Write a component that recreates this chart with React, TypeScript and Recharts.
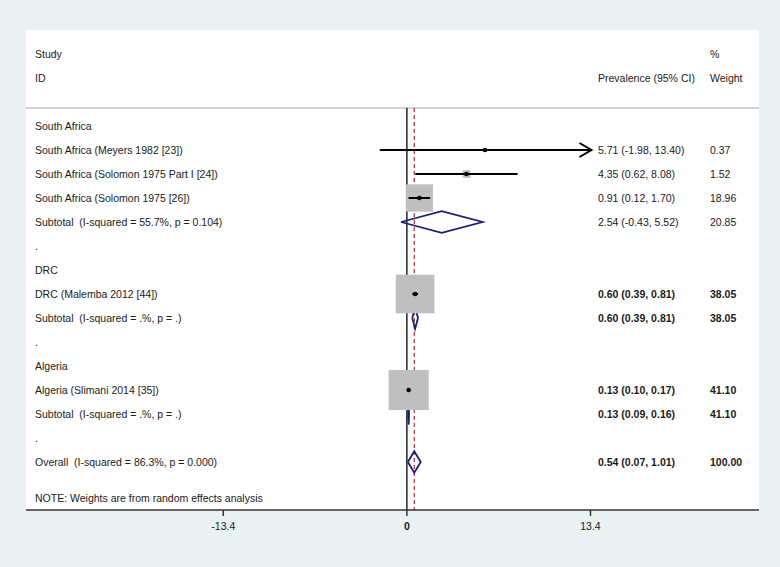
import React from 'react';
import {
  ComposedChart,
  Scatter,
  Line,
  XAxis,
  YAxis,
  ZAxis,
  ErrorBar,
  ReferenceLine,
  CartesianGrid,
} from 'recharts';

// row labels, top to bottom (row index = position in this list)
const rowLabels = [
  'South Africa',
  'South Africa (Meyers 1982 [23])',
  'South Africa (Solomon 1975 Part I [24])',
  'South Africa (Solomon 1975 [26])',
  'Subtotal  (I-squared = 55.7%, p = 0.104)',
  '.',
  'DRC',
  'DRC (Malemba 2012 [44])',
  'Subtotal  (I-squared = .%, p = .)',
  '.',
  'Algeria',
  'Algeria (Slimani 2014 [35])',
  'Subtotal  (I-squared = .%, p = .)',
  '.',
  'Overall  (I-squared = 86.3%, p = 0.000)',
];

// individual studies
const studyRows = [1, 2, 3, 7, 11];
const studyEst = [5.71, 4.35, 0.91, 0.6, 0.13];
const studyLo = [-1.98, 0.62, 0.12, 0.39, 0.1];
const studyHi = [13.4, 8.08, 1.7, 0.81, 0.17];
const studyWeight = [0.37, 1.52, 18.96, 38.05, 41.1];

// pooled estimates (subtotals + overall)
const pooledRows = [4, 8, 12, 14];
const pooledEst = [2.54, 0.6, 0.13, 0.54];
const pooledLo = [-0.43, 0.39, 0.09, 0.07];
const pooledHi = [5.52, 0.81, 0.16, 1.01];
const pooledWeight = [20.85, 38.05, 41.1, 100.0];

const boldRows = [7, 8, 11, 12, 14];
const xTicks = [-13.4, 0, 13.4];
const overallEst = 0.54;
const noteText = 'NOTE: Weights are from random effects analysis';

const X_DOMAIN: [number, number] = [-27.8, 25.7];
const Y_DOMAIN: [number, number] = [-4, 16];
const SEP_ROW = -0.75;
const NOTE_ROW = 15.5;
const DIAMOND_H = 0.45;
const ARROW_AT = 13.4;

const FONT = '"Liberation Sans", Arial, sans-serif';
const FS = 10.5;
const TXT = '#1a1a1a';
const NAVY = '#1c2070';

const studyData = studyRows.map((r, i) => ({
  x: studyEst[i],
  y: r,
  w: studyWeight[i],
  err: [studyEst[i] - studyLo[i], Math.min(studyHi[i], ARROW_AT) - studyEst[i]],
}));

const arrowData = studyRows
  .map((r, i) => ({ x: ARROW_AT, y: r, hi: studyHi[i] }))
  .filter((d) => d.hi >= ARROW_AT);

const diamonds = pooledRows.map((r, i) => [
  { x: pooledLo[i], y: r },
  { x: pooledEst[i], y: r - DIAMOND_H },
  { x: pooledHi[i], y: r },
  { x: pooledEst[i], y: r + DIAMOND_H },
  { x: pooledLo[i], y: r },
]);

const fmt = (e: number, l: number, h: number) =>
  `${e.toFixed(2)} (${l.toFixed(2)}, ${h.toFixed(2)})`;

const rightCols: Record<string, [string, string]> = {
  '-3': ['', '%'],
  '-2': ['Prevalence (95% CI)', 'Weight'],
};
studyRows.forEach((r, i) => {
  rightCols[String(r)] = [fmt(studyEst[i], studyLo[i], studyHi[i]), studyWeight[i].toFixed(2)];
});
pooledRows.forEach((r, i) => {
  rightCols[String(r)] = [fmt(pooledEst[i], pooledLo[i], pooledHi[i]), pooledWeight[i].toFixed(2)];
});

const leftLabel = (v: number) => {
  if (v === -3) return 'Study';
  if (v === -2) return 'ID';
  if (v === NOTE_ROW) return noteText;
  return rowLabels[v] ?? '';
};

const yTicks = [-3, -2, ...rowLabels.map((_, i) => i), NOTE_ROW];

const textStyle: React.CSSProperties = { whiteSpace: 'pre' };

const LeftTick = (props: any) => {
  const { y, payload } = props;
  return (
    <text x={35} y={y} dy="0.35em" fontSize={FS} fontFamily={FONT} fill={TXT} style={textStyle}>
      {leftLabel(payload.value)}
    </text>
  );
};

const RightTick = (props: any) => {
  const { y, payload } = props;
  const cols = rightCols[String(payload.value)];
  if (!cols) return <g />;
  const bold = boldRows.includes(payload.value);
  return (
    <g fontSize={FS} fontFamily={FONT} fill={TXT} fontWeight={bold ? 'bold' : 'normal'}>
      <text x={598} y={y} dy="0.35em">{cols[0]}</text>
      <text x={710} y={y} dy="0.35em">{cols[1]}</text>
    </g>
  );
};

const XTick = (props: any) => {
  const { x, y, payload } = props;
  return (
    <text
      x={x}
      y={y}
      dy="0.71em"
      textAnchor="middle"
      fontSize={FS}
      fontFamily={FONT}
      fill={TXT}
      fontWeight={payload.value === 0 ? 'bold' : 'normal'}
    >
      {String(payload.value)}
    </text>
  );
};

const Dot = (p: any) => <circle cx={p.cx} cy={p.cy} r={2.3} fill="#000" />;

const Arrow = (p: any) => (
  <path
    d={`M${p.cx - 11},${p.cy - 7} L${p.cx + 1},${p.cy} L${p.cx - 11},${p.cy + 7}`}
    stroke="#000"
    strokeWidth={2}
    fill="none"
  />
);

const Box = (p: any) => {
  const s = Math.sqrt(Math.max(p.size || 0, 0));
  return <rect x={p.cx - s / 2} y={p.cy - s / 2} width={s} height={s} fill="#bfbfbf" />;
};

export default function App() {
  return (
    <div style={{ position: 'absolute', left: 0, top: 0, width: 780, height: 567, background: '#eaf1f3' }}>
      <ComposedChart width={780} height={567} margin={{ top: 30, right: 20, bottom: 17, left: 25 }}>
        <CartesianGrid horizontal={false} vertical={false} fill="#ffffff" fillOpacity={1} yAxisId="left" />
        <XAxis
          type="number"
          dataKey="x"
          domain={X_DOMAIN}
          allowDataOverflow
          ticks={xTicks}
          interval={0}
          height={40}
          tickSize={6}
          tickMargin={7}
          tick={<XTick />}
          axisLine={{ stroke: '#333', strokeWidth: 1.5 }}
          tickLine={{ stroke: '#333', strokeWidth: 1.5 }}
        />
        <YAxis
          yAxisId="left"
          type="number"
          dataKey="y"
          domain={Y_DOMAIN}
          allowDataOverflow
          reversed
          width={1}
          ticks={yTicks}
          interval={0}
          axisLine={false}
          tickLine={false}
          tick={<LeftTick />}
        />
        <YAxis
          yAxisId="right"
          orientation="right"
          type="number"
          dataKey="y"
          domain={Y_DOMAIN}
          allowDataOverflow
          reversed
          width={1}
          ticks={yTicks}
          interval={0}
          axisLine={false}
          tickLine={false}
          tick={<RightTick />}
        />
        <ZAxis type="number" dataKey="w" domain={[0, 41.1]} range={[0, 1608]} />

        <ReferenceLine yAxisId="left" y={SEP_ROW} stroke="#d2d2d2" strokeWidth={2} />
        <ReferenceLine
          yAxisId="left"
          segment={[{ x: 0, y: SEP_ROW }, { x: 0, y: Y_DOMAIN[1] }]}
          stroke="#000"
          strokeWidth={1.3}
        />
        <ReferenceLine
          yAxisId="left"
          segment={[{ x: overallEst, y: SEP_ROW }, { x: overallEst, y: Y_DOMAIN[1] }]}
          stroke="#b02a3a"
          strokeWidth={1.2}
          strokeDasharray="4 3"
        />

        <Scatter yAxisId="left" data={studyData} shape={<Box />} isAnimationActive={false} />
        <Scatter yAxisId="left" data={studyData} shape={<Dot />} isAnimationActive={false}>
          <ErrorBar dataKey="err" direction="x" width={0} stroke="#000" strokeWidth={2} zIndex={650} />
        </Scatter>
        <Scatter yAxisId="left" data={arrowData} shape={<Arrow />} isAnimationActive={false} />

        {diamonds.map((d, i) => (
          <Line
            key={`dia-${i}`}
            yAxisId="left"
            data={d}
            dataKey="y"
            type="linear"
            stroke={NAVY}
            strokeWidth={1.8}
            dot={false}
            activeDot={false}
            isAnimationActive={false}
          />
        ))}
      </ComposedChart>
    </div>
  );
}
